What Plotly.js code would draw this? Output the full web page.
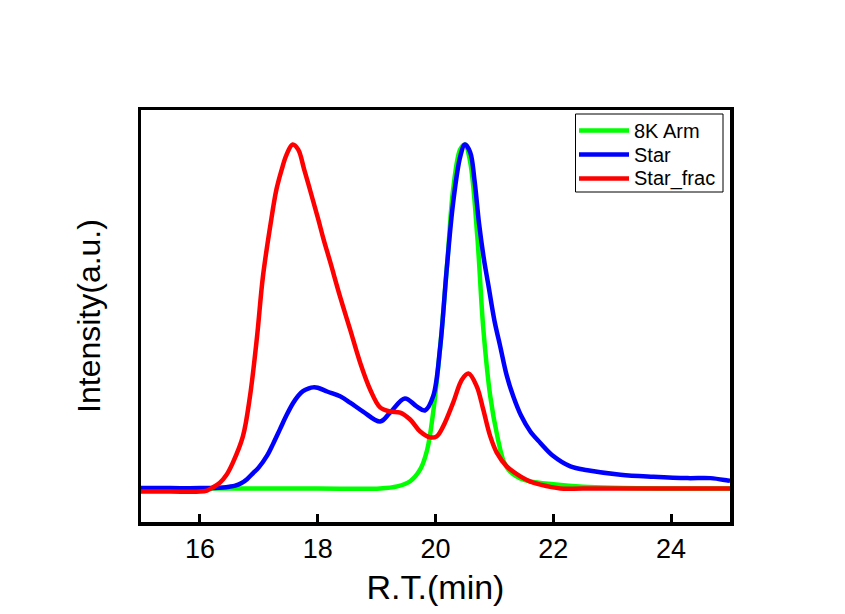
<!DOCTYPE html>
<html>
<head>
<meta charset="utf-8">
<script src="https://cdn.plot.ly/plotly-3.0.1.min.js"></script>
<style>
  html, body { margin: 0; padding: 0; background: #ffffff; }
  #chart { width: 845px; height: 614px; }
</style>
</head>
<body>
<div id="chart"></div>
<script>
// ---- Data ----
const seriesNames = ["8K Arm", "Star", "Star_frac"];
const seriesColors = ["#00ff00", "#0000ff", "#ff0000"];

const armX = [15.0, 16.0, 17.0, 18.0, 19.06, 19.35, 19.57, 19.74, 19.86, 19.96, 20.08, 20.20, 20.30, 20.42, 20.50, 20.59, 20.71, 20.81, 20.93, 21.05, 21.15, 21.22, 21.32, 21.44, 21.61, 22.0, 22.5, 23.0, 24.0, 25.0];
const armY = [0.003, 0.003, 0.003, 0.003, 0.003, 0.009, 0.024, 0.058, 0.116, 0.223, 0.414, 0.658, 0.870, 0.986, 1.0, 0.948, 0.733, 0.470, 0.270, 0.154, 0.085, 0.062, 0.044, 0.032, 0.023, 0.015, 0.008, 0.005, 0.003, 0.003];

const starX = [15.0, 15.5, 16.0, 16.39, 16.5, 16.6, 16.7, 16.8, 16.9, 17.0, 17.14, 17.25, 17.36, 17.47, 17.58, 17.67, 17.75, 17.85, 17.92, 18.0, 18.16, 18.38, 18.55, 18.77, 19.06, 19.23, 19.48, 19.68, 19.82, 19.96, 20.08, 20.19, 20.30, 20.42, 20.50, 20.59, 20.66, 20.74, 20.82, 20.90, 21.00, 21.10, 21.21, 21.32, 21.45, 21.61, 21.78, 22.00, 22.29, 22.58, 23.14, 23.70, 24.28, 24.67, 24.96, 25.0];
const starY = [0.004, 0.004, 0.004, 0.006, 0.008, 0.011, 0.018, 0.030, 0.047, 0.064, 0.098, 0.135, 0.175, 0.215, 0.250, 0.272, 0.285, 0.293, 0.296, 0.295, 0.284, 0.270, 0.252, 0.226, 0.197, 0.223, 0.264, 0.241, 0.229, 0.270, 0.414, 0.638, 0.832, 0.965, 1.0, 0.977, 0.900, 0.770, 0.670, 0.590, 0.490, 0.414, 0.330, 0.270, 0.215, 0.168, 0.135, 0.097, 0.067, 0.056, 0.043, 0.037, 0.033, 0.033, 0.026, 0.025];

const fracX = [15.0, 15.5, 16.0, 16.12, 16.2, 16.34, 16.45, 16.56, 16.73, 16.85, 16.97, 17.07, 17.2, 17.3, 17.39, 17.47, 17.575, 17.67, 17.77, 17.9, 18.01, 18.1, 18.21, 18.38, 18.55, 18.72, 18.89, 19.06, 19.23, 19.40, 19.57, 19.74, 19.91, 20.02, 20.13, 20.30, 20.45, 20.56, 20.70, 20.81, 20.93, 21.04, 21.21, 21.44, 21.61, 21.78, 22.12, 22.5, 23.5, 24.5, 25.0];
const fracY = [-0.006, -0.006, -0.006, -0.003, 0.004, 0.020, 0.042, 0.078, 0.154, 0.270, 0.443, 0.617, 0.770, 0.870, 0.928, 0.970, 1.0, 0.985, 0.928, 0.850, 0.783, 0.725, 0.661, 0.559, 0.464, 0.368, 0.290, 0.238, 0.226, 0.223, 0.203, 0.168, 0.151, 0.154, 0.183, 0.252, 0.319, 0.336, 0.299, 0.232, 0.154, 0.107, 0.067, 0.038, 0.023, 0.014, 0.003, 0.003, 0.003, 0.003, 0.003];

const xTickVals = [16, 18, 20, 22, 24];
const xTickText = ["16", "18", "20", "22", "24"];

// ---- Traces ----
const xs = [armX, starX, fracX];
const ys = [armY, starY, fracY];
const traces = seriesNames.map((name, i) => ({
  type: "scatter",
  mode: "lines",
  name: name,
  x: xs[i],
  y: ys[i],
  line: { color: seriesColors[i], width: 4.5, shape: "spline", smoothing: 1 },
  showlegend: false,
  hoverinfo: "skip"
}));

const fontFamily = "Liberation Sans, Arial, sans-serif";

// ---- Legend box drawn in paper coordinates ----
const W = 845, H = 614;
const M = { l: 141, r: 115, t: 110, b: 92 };
const pw = W - M.l - M.r, ph = H - M.t - M.b;
const px = (x) => (x - M.l) / pw;
const py = (y) => (H - M.b - y) / ph;

const legBox = { x0: 575.5, x1: 723, y0: 114, y1: 192 };
const legRows = [130.5, 154.5, 178.5];
const shapes = [{
  type: "rect", xref: "paper", yref: "paper",
  x0: px(legBox.x0), x1: px(legBox.x1), y0: py(legBox.y1), y1: py(legBox.y0),
  line: { color: "#000000", width: 1 }, fillcolor: "#ffffff", layer: "above"
}];
const annotations = [];
seriesNames.forEach((name, i) => {
  shapes.push({
    type: "line", xref: "paper", yref: "paper",
    x0: px(579), x1: px(629), y0: py(legRows[i]), y1: py(legRows[i]),
    line: { color: seriesColors[i], width: 4.5 }, layer: "above"
  });
  annotations.push({
    xref: "paper", yref: "paper", x: px(632), y: py(legRows[i]),
    xanchor: "left", yanchor: "middle", showarrow: false,
    text: name, font: { family: fontFamily, size: 20, color: "#000000" }
  });
});

const layout = {
  width: W,
  height: H,
  margin: { l: M.l, r: M.r, t: M.t, b: M.b, pad: 0 },
  paper_bgcolor: "#ffffff",
  plot_bgcolor: "#ffffff",
  font: { family: fontFamily, color: "#000000" },
  showlegend: false,
  shapes: shapes,
  annotations: annotations,
  xaxis: {
    range: [15, 25],
    tickmode: "array",
    tickvals: xTickVals,
    ticktext: xTickText,
    ticks: "inside",
    ticklen: 8,
    tickwidth: 3,
    tickcolor: "#000000",
    showline: true,
    linewidth: 3.5,
    linecolor: "#000000",
    mirror: true,
    showgrid: false,
    zeroline: false,
    tickfont: { family: fontFamily, size: 27, color: "#000000" },
    title: { text: "R.T.(min)", font: { family: fontFamily, size: 34, color: "#000000" }, standoff: 13 }
  },
  yaxis: {
    range: [-0.0942, 1.1],
    showticklabels: false,
    ticks: "",
    showline: true,
    linewidth: 3.5,
    linecolor: "#000000",
    mirror: true,
    showgrid: false,
    zeroline: false,
    title: { text: "Intensity(a.u.)", font: { family: fontFamily, size: 32, color: "#000000" }, standoff: 28 }
  }
};

Plotly.newPlot("chart", traces, layout, { staticPlot: true, displayModeBar: false });
</script>
</body>
</html>
